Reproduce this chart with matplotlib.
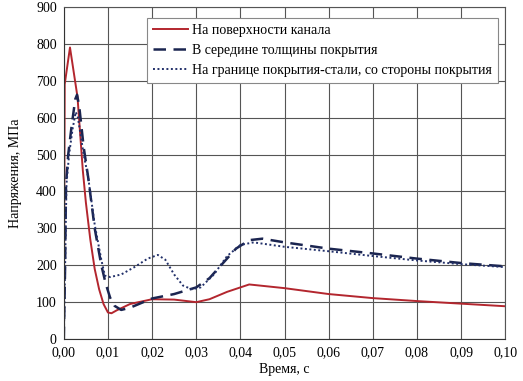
import matplotlib
matplotlib.use("Agg")
import matplotlib.pyplot as plt

plt.rcParams['font.family'] = ['Liberation Serif', 'DejaVu Serif']

# Surface of channel
x_surf = [0, 0.0002, 0.0014, 0.0031, 0.0043, 0.005, 0.006, 0.007, 0.008, 0.009, 0.0100,
          0.0108, 0.012, 0.015, 0.02, 0.025, 0.03, 0.033, 0.037, 0.042, 0.05, 0.06, 0.07,
          0.08, 0.09, 0.10]
y_surf = [0, 690, 790, 656, 458, 370, 270, 190, 135, 95, 72,
          70, 78, 95, 108, 107, 100, 108, 128, 148, 138, 122, 111,
          103, 96, 89]

# Middle of coating thickness
x_mid = [0, 0.0003, 0.0005, 0.001, 0.0018, 0.0026, 0.003, 0.0035, 0.0045, 0.0055, 0.007,
         0.0085, 0.0095, 0.0105, 0.0115, 0.013, 0.015, 0.017, 0.02, 0.025, 0.03, 0.033,
         0.036, 0.039, 0.042, 0.045, 0.05, 0.06, 0.07, 0.08, 0.09, 0.10]
y_mid = [0, 200, 420, 500, 580, 650, 662, 630, 520, 440, 300,
         200, 150, 112, 90, 79, 85, 95, 110, 122, 140, 165,
         205, 245, 268, 272, 262, 245, 232, 218, 206, 197]

# Coating-steel boundary
x_bnd = [0, 0.0003, 0.0006, 0.0012, 0.002, 0.0027, 0.0032, 0.0045, 0.0055, 0.007, 0.0085,
         0.0093, 0.0105, 0.013, 0.016, 0.019, 0.0213, 0.023, 0.025, 0.027, 0.029, 0.031,
         0.034, 0.037, 0.040, 0.043, 0.05, 0.06, 0.07, 0.08, 0.09, 0.10]
y_bnd = [0, 200, 420, 500, 570, 615, 600, 500, 440, 310, 215,
         172, 168, 175, 195, 218, 228, 215, 175, 145, 135, 140,
         175, 225, 255, 262, 250, 238, 225, 213, 203, 195]

labels = ["На поверхности канала",
          "В середине толщины покрытия",
          "На границе покрытия-стали, со стороны покрытия"]

xticks = [0.00, 0.01, 0.02, 0.03, 0.04, 0.05, 0.06, 0.07, 0.08, 0.09, 0.10]
yticks = [0, 100, 200, 300, 400, 500, 600, 700, 800, 900]

fig = plt.figure(figsize=(5.23, 3.81), dpi=100)
ax = fig.add_axes([0.122, 0.110, 0.844, 0.872])

ax.plot(x_surf, y_surf, color='#B3262E', lw=1.4, label=labels[0])
ax.plot(x_mid, y_mid, color='#1B2550', lw=1.8, ls=(0, (5, 3)), label=labels[1])
ax.plot(x_bnd, y_bnd, color='#22306A', lw=1.4, ls=(0, (1, 1.3)), label=labels[2])

ax.set_xlim(0, 0.10)
ax.set_ylim(0, 900)
ax.set_xticks(xticks)
ax.set_yticks(yticks)
ax.set_xticklabels([f"{v:.2f}".replace('.', ',') for v in xticks])
ax.set_yticklabels([str(v) for v in yticks])
ax.tick_params(labelsize=10, length=0, pad=5)
ax.grid(True, color='#555555', lw=0.8)
for s in ax.spines.values():
    s.set_color('#555555')
    s.set_linewidth(0.8)
ax.spines['left'].set_color('#333333')
ax.spines['bottom'].set_color('#333333')

ax.set_xlabel("Время, с", fontsize=10, labelpad=3)
ax.set_ylabel("Напряжения, МПа", fontsize=10, labelpad=10)

leg = ax.legend(loc='upper right', bbox_to_anchor=(1.0, 0.988), fontsize=10,
                frameon=True, fancybox=False, edgecolor='#888888', framealpha=1,
                handlelength=2.5, handletextpad=0.3, borderpad=0.45, labelspacing=0.5)
leg.get_frame().set_linewidth(0.8)

fig.savefig("out.png", dpi=100)
